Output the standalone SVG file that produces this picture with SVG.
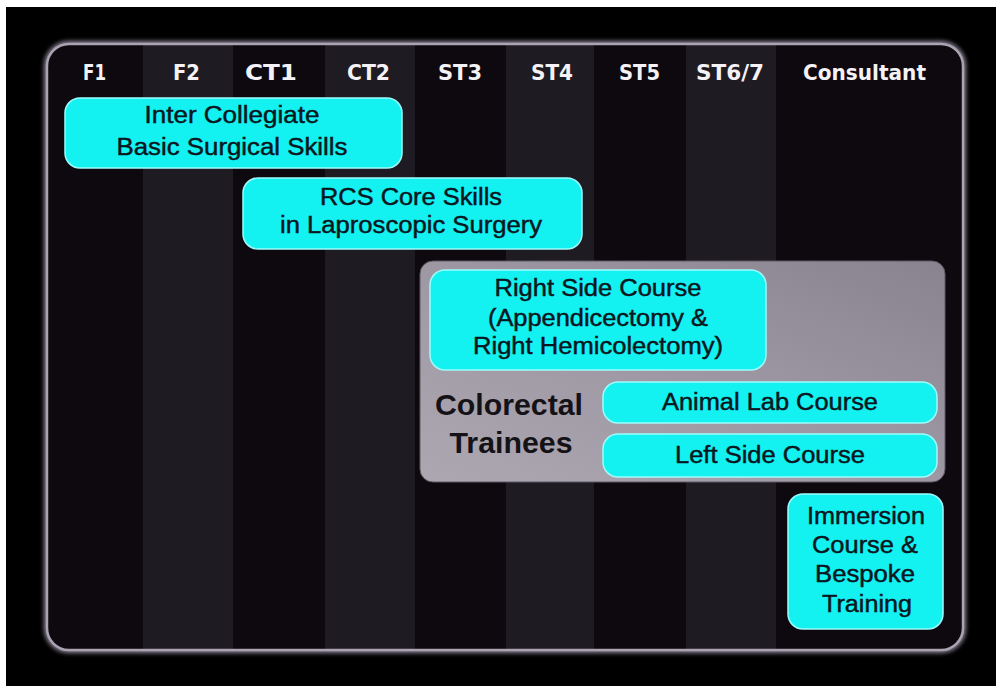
<svg xmlns="http://www.w3.org/2000/svg" width="996" height="686" viewBox="0 0 996 686">
<defs>
<style>
.hdr{font-family:"DejaVu Sans","Liberation Sans",sans-serif;font-weight:bold;font-size:21px;fill:#f4f2f6;text-anchor:middle}
.lbl{font-family:"Liberation Sans",Arial,sans-serif;font-size:23px;fill:#0a1620;stroke:#0a1620;stroke-width:0.45;text-anchor:middle}
.big{font-family:"Liberation Sans",Arial,sans-serif;font-weight:bold;font-size:30px;fill:#141216;text-anchor:middle}
.box{fill:#14f1f1;stroke:#9ffbfb;stroke-width:1.5}
.dark{fill:#0d090e}
.light{fill:#1f1b22}
</style>
<clipPath id="frameClip"><rect x="47" y="44" width="916" height="606" rx="22"/></clipPath>
<linearGradient id="panelGrad" x1="0" y1="1" x2="1" y2="0">
<stop offset="0" stop-color="#aca7b1"/>
<stop offset="0.55" stop-color="#9b96a1"/>
<stop offset="1" stop-color="#88838e"/>
</linearGradient>
<filter id="glow" x="-5%" y="-5%" width="110%" height="110%"><feGaussianBlur stdDeviation="2"/></filter>
</defs>
<rect x="0" y="0" width="996" height="686" fill="#ffffff"/>
<rect x="6" y="7" width="990" height="679" fill="#000000"/>
<g id="frame">
<rect x="47" y="44" width="916" height="606" rx="22" fill="none" stroke="#8a8394" stroke-width="6" filter="url(#glow)"/>
<g clip-path="url(#frameClip)">
<rect class="dark" x="47" y="44" width="96" height="606"/>
<rect class="light" x="143" y="44" width="90" height="606"/>
<rect class="dark" x="233" y="44" width="92" height="606"/>
<rect class="light" x="325" y="44" width="90" height="606"/>
<rect class="dark" x="415" y="44" width="91" height="606"/>
<rect class="light" x="506" y="44" width="88" height="606"/>
<rect class="dark" x="594" y="44" width="92" height="606"/>
<rect class="light" x="686" y="44" width="90" height="606"/>
<rect class="dark" x="776" y="44" width="187" height="606"/>
</g>
<rect x="47" y="44" width="916" height="606" rx="22" fill="none" stroke="#aaa3b2" stroke-width="2.5"/>
</g>
<g id="header">
<text class="hdr" x="94.5" y="80" textLength="23" lengthAdjust="spacingAndGlyphs">F1</text>
<text class="hdr" x="186.5" y="80" textLength="27" lengthAdjust="spacingAndGlyphs">F2</text>
<text class="hdr" x="271" y="80" textLength="52" lengthAdjust="spacingAndGlyphs">CT1</text>
<text class="hdr" x="368.5" y="80" textLength="43" lengthAdjust="spacingAndGlyphs">CT2</text>
<text class="hdr" x="460" y="80" textLength="44" lengthAdjust="spacingAndGlyphs">ST3</text>
<text class="hdr" x="552" y="80" textLength="42" lengthAdjust="spacingAndGlyphs">ST4</text>
<text class="hdr" x="639.5" y="80" textLength="41" lengthAdjust="spacingAndGlyphs">ST5</text>
<text class="hdr" x="730" y="80" textLength="68" lengthAdjust="spacingAndGlyphs">ST6/7</text>
<text class="hdr" x="864.5" y="80" textLength="123" lengthAdjust="spacingAndGlyphs">Consultant</text>
</g>
<g id="basic-surgical-skills">
<rect class="box" x="65" y="98" width="337" height="70" rx="15"/>
<text class="lbl" x="232" y="123" textLength="175" lengthAdjust="spacingAndGlyphs">Inter Collegiate</text>
<text class="lbl" x="232" y="155" textLength="231" lengthAdjust="spacingAndGlyphs">Basic Surgical Skills</text>
</g>
<g id="rcs-core-skills">
<rect class="box" x="243" y="178" width="339" height="71" rx="15"/>
<text class="lbl" x="411" y="205" textLength="182" lengthAdjust="spacingAndGlyphs">RCS Core Skills</text>
<text class="lbl" x="411" y="233" textLength="262" lengthAdjust="spacingAndGlyphs">in Laproscopic Surgery</text>
</g>
<g id="colorectal-trainees">
<rect x="420" y="261" width="525" height="221" rx="13" fill="url(#panelGrad)" stroke="#5f5a66" stroke-width="1"/>
<text class="big" x="509" y="415" textLength="148" lengthAdjust="spacingAndGlyphs">Colorectal</text>
<text class="big" x="511" y="453" textLength="123" lengthAdjust="spacingAndGlyphs">Trainees</text>
</g>
<g id="right-side-course">
<rect class="box" x="430" y="270" width="336" height="100" rx="15"/>
<text class="lbl" x="598" y="296" textLength="207" lengthAdjust="spacingAndGlyphs">Right Side Course</text>
<text class="lbl" x="598" y="326" textLength="220" lengthAdjust="spacingAndGlyphs">(Appendicectomy &amp;</text>
<text class="lbl" x="598" y="354" textLength="250" lengthAdjust="spacingAndGlyphs">Right Hemicolectomy)</text>
</g>
<g id="animal-lab-course">
<rect class="box" x="603" y="382" width="334" height="41" rx="15"/>
<text class="lbl" x="770" y="410" textLength="216" lengthAdjust="spacingAndGlyphs">Animal Lab Course</text>
</g>
<g id="left-side-course">
<rect class="box" x="603" y="434" width="334" height="43" rx="15"/>
<text class="lbl" x="770" y="463" textLength="190" lengthAdjust="spacingAndGlyphs">Left Side Course</text>
</g>
<g id="immersion-course">
<rect class="box" x="788" y="494" width="155" height="135" rx="15"/>
<text class="lbl" x="866" y="524" textLength="118" lengthAdjust="spacingAndGlyphs">Immersion</text>
<text class="lbl" x="865" y="553" textLength="106" lengthAdjust="spacingAndGlyphs">Course &amp;</text>
<text class="lbl" x="865" y="582" textLength="100" lengthAdjust="spacingAndGlyphs">Bespoke</text>
<text class="lbl" x="867" y="612" textLength="90" lengthAdjust="spacingAndGlyphs">Training</text>
</g>
<g id="connectors"/>
</svg>
